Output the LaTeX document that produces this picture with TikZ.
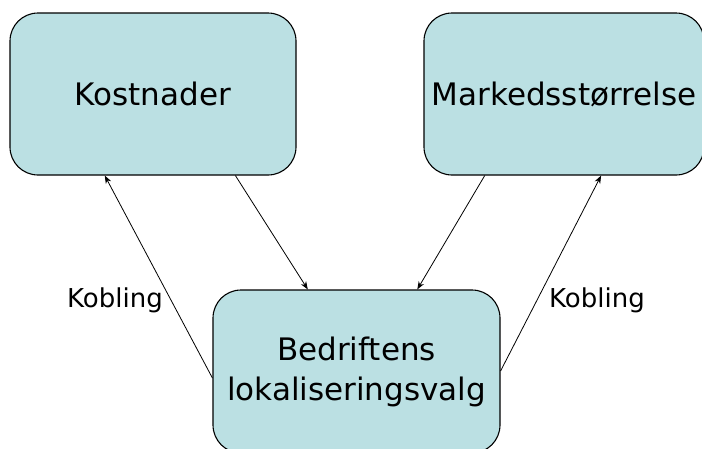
\documentclass[tikz,border=0pt]{standalone}
\usepackage{fontspec}
\setmainfont{DejaVu Sans}
\usetikzlibrary{calc,arrows.meta}
\definecolor{boxfill}{RGB}{187,224,227}
\begin{document}
\begin{tikzpicture}[x=1pt,y=-1pt,
  box/.style={draw=black, line width=1.1pt, fill=boxfill, rounded corners=28pt,
    inner sep=0pt, align=center, font=\fontsize{31}{40}\selectfont},
  link/.style={line width=0.8pt, -{Stealth[length=8pt,width=6pt]}},
  lbl/.style={font=\fontsize{26}{30}\selectfont, inner sep=0pt}]
\useasboundingbox (0,0) rectangle (702,448);
\clip (0,0) rectangle (702,448);

% the three factor boxes
\node[box, minimum width=286pt, minimum height=162pt] (k) at (153,94) {Kostnader};
\node[box, minimum width=280pt, minimum height=162pt] (m) at (564,94) {Markedsstørrelse};
\node[box, minimum width=287pt, minimum height=163pt] (b) at (356.5,371.5)
  {Bedriftens\\lokaliseringsvalg};

% connectors between the boxes
\draw[link] ($(b.north west)!0.54!(b.south west)$) -- ($(k.south west)!0.332!(k.south east)$);
\draw[link] ($(k.south west)!0.787!(k.south east)$) -- ($(b.north west)!0.331!(b.north east)$);
\draw[link] ($(m.south west)!0.218!(m.south east)$) -- ($(b.north west)!0.711!(b.north east)$);
\draw[link] ($(b.north east)!0.497!(b.south east)$) -- ($(m.south west)!0.632!(m.south east)$);

% coupling labels
\node[lbl] (kl) at (115,300) {Kobling};
\node[lbl] (kr) at (597,300) {Kobling};
\end{tikzpicture}
\end{document}
